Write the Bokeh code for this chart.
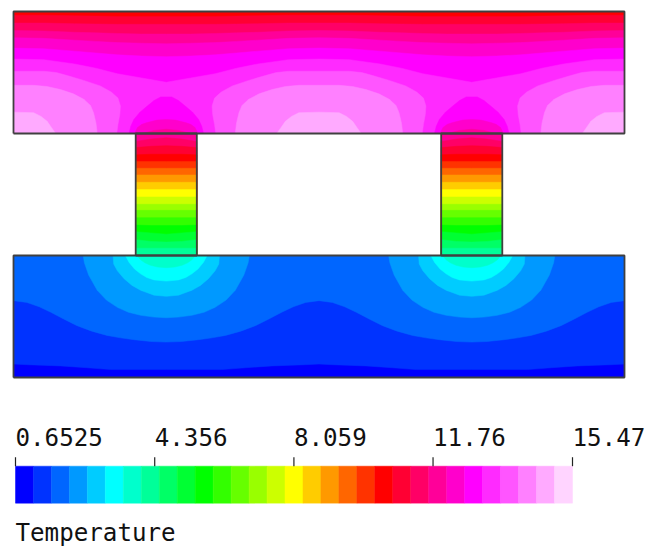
from bokeh.plotting import figure
from bokeh.models import Range1d
from bokeh.core.properties import value
from bokeh.embed import file_html
from bokeh.resources import INLINE

# ---- data -----------------------------------------------------------------
TICK_VALUES = [0.6525, 4.356, 8.059, 11.76, 15.47]
TICK_LABELS = ["0.6525", "4.356", "8.059", "11.76", "15.47"]
TITLE = "Temperature"

COLORS = ["#0000ff", "#0033ff", "#0066ff", "#0099ff", "#00ccff", "#00ffff", "#00ffcc", "#00ff99",
          "#00ff66", "#00ff33", "#00ff00", "#33ff00", "#66ff00", "#99ff00", "#ccff00", "#ffff00",
          "#ffcc00", "#ff9900", "#ff6600", "#ff3300", "#ff0000", "#ff0033", "#ff0066", "#ff0099",
          "#ff00cc", "#ff00ff", "#ff2aff", "#ff55ff", "#ff80ff", "#ffaaff", "#ffd4ff"]

# upper plate: isotherm heights across half a cell, below each one the next colour up
TOP_U = [0.0, 0.5, 1.0, 1.35, 1.7, 2.1, 2.5]
TOP_SPANS = [
    (21, [5.94, 5.94, 5.93, 5.925, 5.92, 5.92, 5.92]),
    (22, [5.81, 5.81, 5.80, 5.795, 5.79, 5.79, 5.79]),
    (23, [5.69, 5.68, 5.66, 5.65, 5.64, 5.63, 5.63]),
    (24, [5.57, 5.56, 5.53, 5.51, 5.49, 5.48, 5.47]),
    (25, [5.40, 5.39, 5.35, 5.32, 5.29, 5.27, 5.26]),
    (26, [5.22, 5.21, 5.14, 5.07, 4.98, 4.91, 4.84]),
]
TOP_ARCHES = [
    (27, [0, .5, .7, .88, 1.15, 1.42, 1.6, 1.71, 1.75, 1.74, 1.71, 1.69],
         [5.02, 5.02, 5.0, 4.95, 4.87, 4.78, 4.68, 4.58, 4.45, 4.31, 4.15, 4.0]),
    (28, [0, .33, .55, .77, .98, 1.15, 1.26, 1.31, 1.35, 1.37],
         [4.79, 4.79, 4.77, 4.72, 4.65, 4.56, 4.46, 4.34, 4.17, 4.0]),
    (29, [0, .33, .45, .55, .62, .69], [4.35, 4.34, 4.28, 4.20, 4.1, 4.0]),
]
TOP_HUMPS = [
    (25, [1.89, 1.92, 1.97, 2.07, 2.19, 2.3, 2.41, 2.5], [4.0, 4.12, 4.23, 4.35, 4.45, 4.54, 4.60, 4.60]),
    (24, [1.98, 2.03, 2.1, 2.19, 2.35, 2.5], [4.0, 4.10, 4.15, 4.18, 4.22, 4.23]),
    (23, [2.10, 2.30, 2.5], [4.0, 4.05, 4.07]),
]

# legs: isotherm heights at the wall, quarter width and centre of half a leg
LEG_U = [2.0, 2.25, 2.5]
LEG_BANDS = [
    (22, [3.87, 3.91, 3.93]), (21, [3.77, 3.79, 3.80]), (20, [3.65, 3.66, 3.66]),
    (19, [3.54, 3.54, 3.54]), (18, [3.43, 3.43, 3.43]), (17, [3.32, 3.32, 3.32]),
    (16, [3.20, 3.20, 3.20]), (15, [3.08, 3.08, 3.08]), (14, [2.96, 2.96, 2.96]),
    (13, [2.84, 2.84, 2.84]), (12, [2.74, 2.74, 2.74]), (11, [2.62, 2.62, 2.62]),
    (10, [2.50, 2.49, 2.49]), (9, [2.39, 2.37, 2.35]), (8, [2.26, 2.23, 2.22]),
    (7, [2.12, 2.12, 2.12]),
]

# lower plate
BOT_SPANS = [
    (1, [0, .22, .77, 1.2, 1.59, 2.5], [.22, .21, .19, .16, .13, .13]),
    (2, [0, .22, .42, .61, .82, 1.04, 1.28, 1.53, 1.75, 1.97, 2.25, 2.5],
        [1.26, 1.23, 1.16, 1.07, .96, .85, .76, .69, .65, .62, .59, .58]),
]
BOT_ARCHES = [
    (3, [1.14, 1.16, 1.23, 1.37, 1.52, 1.70, 1.88, 2.08, 2.3, 2.5],
        [2.0, 1.88, 1.68, 1.43, 1.27, 1.15, 1.07, 1.02, .99, .98]),
    (4, [1.63, 1.64, 1.70, 1.81, 1.94, 2.08, 2.3, 2.5], [2.0, 1.86, 1.75, 1.62, 1.51, 1.43, 1.35, 1.33]),
    (5, [1.83, 1.89, 1.98, 2.08, 2.18, 2.30, 2.5], [2.0, 1.89, 1.78, 1.70, 1.64, 1.60, 1.58]),
    (6, [2.02, 2.08, 2.15, 2.24, 2.36, 2.5], [2.0, 1.93, 1.88, 1.84, 1.81, 1.80]),
]

# ---- page geometry ---------------------------------------------------------
W, H = 647, 550
PX_U, PX_V = 61.1, 61.0       # pixels per unit of the domain
OX, OY = 13.0, 377.0          # where (0, 0) falls on the canvas

BAR_L, BAR_R = 15.0, 572.0    # colour bar on the canvas
BAR_TOP, BAR_BOT = -1.454, -2.06
TICK_TOP = -1.307
LABEL_Y = -0.98
TITLE_Y = -2.55
FONT_PX = "24.2px"

p = figure(width=W, height=H, output_backend="svg", toolbar_location=None,
           x_range=Range1d(-OX / PX_U, (W - OX) / PX_U),
           y_range=Range1d((OY - H) / PX_V, OY / PX_V),
           min_border=0, outline_line_color=None, background_fill_color="white",
           border_fill_color="white")
p.axis.visible = False
p.grid.visible = False

t0, t1 = TICK_VALUES[0], TICK_VALUES[-1]
per_px = (t1 - t0) / (BAR_R - BAR_L)
p.extra_x_ranges["temp"] = Range1d(t0 - BAR_L * per_px, t1 + (W - BAR_R) * per_px)


def fill(xs, ys, i):
    p.patch(xs, ys, fill_color=COLORS[i], line_color=COLORS[i], line_width=0.5)


def span_x(u):
    return (list(u) + [5 - a for a in reversed(u)] +
            [5 + a for a in u] + [10 - a for a in reversed(u)])


def span_y(v):
    return list(v) + list(reversed(v)) + list(v) + list(reversed(v))


def arch_at_edges(i, u, v, floor):
    fill(list(u) + [0], list(v) + [floor], i)
    fill([5 - a for a in u] + [5 + a for a in reversed(u)], list(v) + list(reversed(v)), i)
    fill([10 - a for a in u] + [10], list(v) + [floor], i)


def hump(i, u, v, shift):
    fill([a + shift for a in u] + [5 - a + shift for a in reversed(u)],
         list(v) + list(reversed(v)), i)


# upper plate
fill([0, 10, 10, 0], [4, 4, 6, 6], 20)
for i, v in TOP_SPANS:
    fill(span_x(TOP_U) + [10, 0], span_y(v) + [4, 4], i)
for i, u, v in TOP_ARCHES:
    arch_at_edges(i, u, v, 4)
for i, u, v in TOP_HUMPS:
    hump(i, u, v, 0)
    hump(i, u, v, 5)

# legs
for shift in (0, 5):
    fill([2 + shift, 3 + shift, 3 + shift, 2 + shift], [2, 2, 4, 4], 23)
    for i, v in LEG_BANDS:
        fill([a + shift for a in LEG_U] + [5 - a + shift for a in reversed(LEG_U)] + [3 + shift, 2 + shift],
             list(v) + list(reversed(v)) + [2, 2], i)

# lower plate
fill([0, 10, 10, 0], [0, 0, 2, 2], 0)
for i, u, v in BOT_SPANS:
    fill(span_x(u) + [10, 0], span_y(v) + [2, 2], i)
for i, u, v in BOT_ARCHES:
    hump(i, u, v, 0)
    hump(i, u, v, 5)

# outlines
EDGE = "#404040"
for x0, x1, y0, y1 in [(0, 10, 4, 6), (0, 10, 0, 2), (2, 3, 2, 4), (7, 8, 2, 4)]:
    p.line([x0, x1, x1, x0, x0], [y0, y0, y1, y1, y0], line_color=EDGE, line_width=1.8)

# colour bar
n = len(COLORS)
edges = [t0 + (t1 - t0) * k / n for k in range(n + 1)]
p.quad(left=edges[:-1], right=edges[1:], bottom=BAR_BOT, top=BAR_TOP,
       fill_color=COLORS, line_color=COLORS, line_width=0.5, x_range_name="temp")
p.segment(x0=TICK_VALUES, x1=TICK_VALUES, y0=BAR_TOP, y1=TICK_TOP,
          line_color="#222222", line_width=1.2, x_range_name="temp")
p.text(x=TICK_VALUES, y=LABEL_Y, text=TICK_LABELS, text_font=value("DejaVu Sans Mono"),
       text_font_size=FONT_PX, text_color="#111111", text_align="left",
       text_baseline="alphabetic", x_range_name="temp")
p.text(x=[t0], y=TITLE_Y, text=[TITLE], text_font=value("DejaVu Sans Mono"),
       text_font_size=FONT_PX, text_color="#111111", text_align="left",
       text_baseline="alphabetic", x_range_name="temp")

open("out.html", "w").write(file_html(p, INLINE))
